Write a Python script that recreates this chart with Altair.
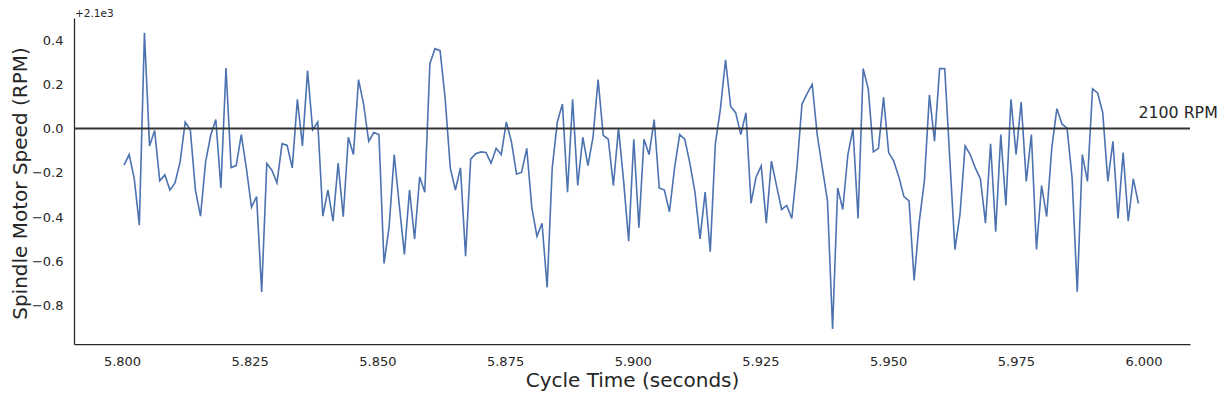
import altair as alt
import pandas as pd

# Sample times (seconds): evenly spaced samples
t_start = 5.8004
t_step = 0.000998
n_samples = 200

# Spindle speed minus 2100 RPM (axis shows "+2.1e3" offset)
speed_offsets = [
    -0.165, -0.117, -0.226, -0.436, 0.433, -0.078, -0.009, -0.236, -0.209, -0.277,
    -0.245, -0.150, 0.030, -0.005, -0.278, -0.395, -0.150, -0.030, 0.041, -0.268,
    0.274, -0.176, -0.167, -0.027, -0.180, -0.355, -0.307, -0.737, -0.158, -0.188,
    -0.245, -0.068, -0.076, -0.177, 0.132, -0.078, 0.262, -0.006, 0.030, -0.395,
    -0.277, -0.418, -0.156, -0.398, -0.039, -0.117, 0.221, 0.110, -0.057, -0.018,
    -0.027, -0.609, -0.444, -0.117, -0.346, -0.568, -0.277, -0.498, -0.218, -0.287,
    0.293, 0.361, 0.352, 0.135, -0.177, -0.277, -0.177, -0.576, -0.138, -0.113,
    -0.105, -0.108, -0.156, -0.089, -0.117, 0.030, -0.060, -0.206, -0.197, -0.089,
    -0.358, -0.486, -0.427, -0.717, -0.177, 0.030, 0.111, -0.287, 0.132, -0.257,
    -0.039, -0.167, -0.039, 0.221, -0.030, -0.048, -0.257, 0.002, -0.236, -0.508,
    -0.048, -0.447, -0.048, -0.117, 0.041, -0.268, -0.277, -0.376, -0.177, -0.027,
    -0.048, -0.156, -0.287, -0.498, -0.287, -0.556, -0.068, 0.090, 0.311, 0.101,
    0.071, -0.027, 0.071, -0.337, -0.218, -0.168, -0.427, -0.147, -0.257, -0.365,
    -0.347, -0.406, -0.180, 0.111, 0.158, 0.200, -0.030, -0.180, -0.326, -0.905,
    -0.268, -0.365, -0.117, 0.000, -0.406, 0.271, 0.180, -0.105, -0.089, 0.141,
    -0.108, -0.147, -0.218, -0.307, -0.326, -0.686, -0.421, -0.238, 0.152, -0.057,
    0.271, 0.271, -0.138, -0.546, -0.386, -0.078, -0.117, -0.177, -0.227, -0.427,
    -0.068, -0.466, -0.027, -0.347, 0.132, -0.117, 0.120, -0.238, -0.027, -0.546,
    -0.257, -0.397, -0.087, 0.090, 0.021, 0.002, -0.226, -0.737, -0.117, -0.238,
    0.180, 0.161, 0.072, -0.238, -0.057, -0.406, -0.108, -0.418, -0.227, -0.338,
]

times = [round(t_start + i * t_step, 6) for i in range(n_samples)]

x_ticks = [5.800, 5.825, 5.850, 5.875, 5.900, 5.925, 5.950, 5.975, 6.000]
y_ticks = [-0.8, -0.6, -0.4, -0.2, 0.0, 0.2, 0.4]

df = pd.DataFrame({"t": times, "off": speed_offsets})

FONT = "DejaVu Sans"
TXT = "#262626"

x_enc = alt.X(
    "t:Q",
    scale=alt.Scale(domain=[5.7906, 6.0091], nice=False, zero=False),
    axis=alt.Axis(
        values=x_ticks, format=".3f", title="Cycle Time (seconds)",
        ticks=False, labelPadding=11, labelFontSize=13, labelColor=TXT,
        labelFont=FONT, titleFont=FONT, titleFontSize=20, titleColor=TXT,
        titleFontWeight="normal", titleY=42.7, titleBaseline="alphabetic",
        domainColor=TXT, domainWidth=1.25, grid=False, labelFlush=False,
    ),
)
y_enc = alt.Y(
    "off:Q",
    scale=alt.Scale(domain=[-0.9725, 0.4995], nice=False, zero=False),
    axis=alt.Axis(
        values=y_ticks,
        labelExpr="replace(format(datum.value, '.1f'), '-', '\u2212')",
        title="Spindle Motor Speed (RPM)",
        ticks=False, labelPadding=11, labelFontSize=13, labelColor=TXT,
        labelFont=FONT, titleFont=FONT, titleFontSize=20, titleColor=TXT,
        titleFontWeight="normal", titleX=-47.5, titleY=165, titleAngle=-90,
        titleBaseline="alphabetic", titleAlign="center",
        domainColor=TXT, domainWidth=1.25, grid=False, labelFlush=False,
    ),
)

line = alt.Chart(df).mark_line(color="#4c72b0", strokeWidth=1.6).encode(x=x_enc, y=y_enc)

rule = alt.Chart(pd.DataFrame({"y": [0.0]})).mark_rule(
    color="#333333", strokeWidth=2
).encode(y=alt.Y("y:Q"))

label = alt.Chart(pd.DataFrame({"t": [times[-1]], "y": [0.05], "txt": ["2100 RPM"]})).mark_text(
    align="left", baseline="alphabetic", font=FONT, fontSize=15.8, color=TXT
).encode(x="t:Q", y="y:Q", text="txt:N")

offset_text = alt.Chart(pd.DataFrame({"txt": ["+2.1e3"]})).mark_text(
    align="left", baseline="alphabetic", font=FONT, fontSize=10.5, color=TXT
).encode(x=alt.value(1), y=alt.value(-1), text="txt:N")

chart = (
    alt.layer(line, rule, label, offset_text)
    .properties(
        width=1116, height=326,
        padding={"left": 66, "top": 10, "right": 27, "bottom": 50},
        autosize=alt.AutoSizeParams(type="none"),
        background="white",
    )
    .configure_view(stroke=None)
)

chart.save("out.html", embed_options={"renderer": "svg", "actions": False})
